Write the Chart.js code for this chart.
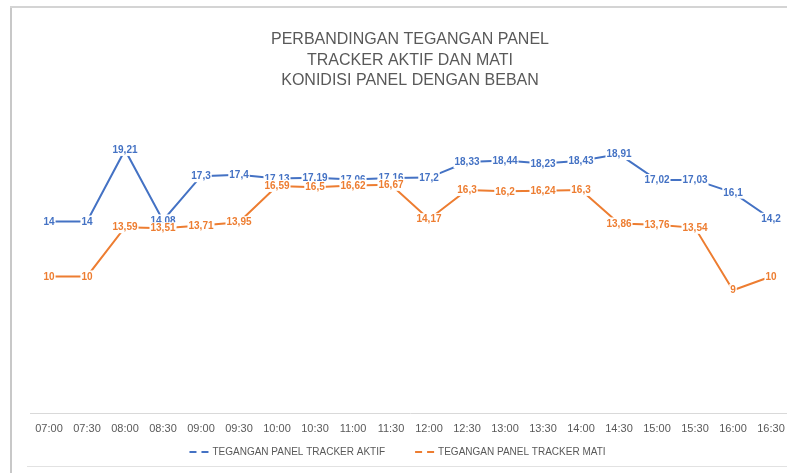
<!DOCTYPE html>
<html>
<head>
<meta charset="utf-8">
<script src="https://cdn.jsdelivr.net/npm/chart.js@4"></script>
<style>
  html, body { margin: 0; padding: 0; background: #fff; overflow: hidden; }
  #wrap { position: relative; width: 787px; height: 473px; overflow: hidden; }
  #box { position: absolute; left: 0; top: 0; width: 795px; height: 473px; }
  .frame-left { position: absolute; left: 10px; top: 7px; width: 2px; height: 466px; background: #c8c8c8; }
  .frame-top { position: absolute; left: 10px; top: 6px; width: 777px; height: 2px; background: #d4d4d4; }
  .frame-bottom { position: absolute; left: 27px; top: 466px; width: 760px; height: 1px; background: #e2e2e2; }
</style>
</head>
<body>
<div id="wrap">
  <div id="box"><canvas id="lineChart" width="795" height="473"></canvas></div>
  <div class="frame-left"></div>
  <div class="frame-top"></div>
  <div class="frame-bottom"></div>
</div>
<script>
  const jam = ['07:00','07:30','08:00','08:30','09:00','09:30','10:00','10:30','11:00','11:30',
               '12:00','12:30','13:00','13:30','14:00','14:30','15:00','15:30','16:00','16:30'];
  const trackerAktif = [14, 14, 19.21, 14.08, 17.3, 17.4, 17.13, 17.19, 17.06, 17.16,
                        17.2, 18.33, 18.44, 18.23, 18.43, 18.91, 17.02, 17.03, 16.1, 14.2];
  const trackerMati = [10, 10, 13.59, 13.51, 13.71, 13.95, 16.59, 16.5, 16.62, 16.67,
                       14.17, 16.3, 16.2, 16.24, 16.3, 13.86, 13.76, 13.54, 9, 10];

  const BLUE = '#4472C4';
  const ORANGE = '#ED7D31';
  const FONT = '"Liberation Sans", Arial, sans-serif';

  // data labels centered on the points, decimal comma
  const labelPlugin = {
    id: 'pointLabels',
    afterDatasetsDraw(chart) {
      const ctx = chart.ctx;
      ctx.save();
      ctx.font = 'bold 10px ' + FONT;
      ctx.textAlign = 'center';
      ctx.textBaseline = 'middle';
      chart.data.datasets.forEach((ds, i) => {
        const meta = chart.getDatasetMeta(i);
        meta.data.forEach((pt, j) => {
          const txt = String(ds.data[j]).replace('.', ',');
          const w = ctx.measureText(txt).width;
          ctx.fillStyle = '#fff';
          ctx.fillRect(pt.x - w / 2 - 1, pt.y - 6, w + 2, 12);
          ctx.fillStyle = ds.borderColor;
          ctx.fillText(txt, pt.x, pt.y + 0.5);
        });
      });
      ctx.restore();
    }
  };

  // legend under the axis, dashed markers like the excel one
  const legendPlugin = {
    id: 'bottomLegend',
    afterDraw(chart) {
      const ctx = chart.ctx;
      const y = 452;
      const mark = 20, gapText = 3, gapItem = 30;
      ctx.save();
      ctx.font = '10px ' + FONT;
      ctx.textBaseline = 'middle';
      const items = chart.data.datasets.map(ds => ({ ds, w: mark + gapText + ctx.measureText(ds.label).width }));
      const total = items.reduce((s, it) => s + it.w, 0) + gapItem * (items.length - 1);
      let x = chart.width / 2 - total / 2;
      items.forEach(it => {
        ctx.strokeStyle = it.ds.borderColor;
        ctx.lineWidth = 2;
        ctx.setLineDash([7, 5]);
        ctx.beginPath();
        ctx.moveTo(x, y);
        ctx.lineTo(x + mark, y);
        ctx.stroke();
        ctx.setLineDash([]);
        ctx.fillStyle = '#595959';
        ctx.fillText(it.ds.label, x + mark + gapText, y + 0.5);
        x += it.w + gapItem;
      });
      ctx.restore();
    }
  };

  new Chart(document.getElementById('lineChart'), {
    type: 'line',
    data: {
      labels: jam,
      datasets: [
        { label: 'TEGANGAN PANEL TRACKER AKTIF', data: trackerAktif, borderColor: BLUE, backgroundColor: BLUE,
          borderWidth: 2, pointRadius: 0, tension: 0, fill: false },
        { label: 'TEGANGAN PANEL TRACKER MATI', data: trackerMati, borderColor: ORANGE, backgroundColor: ORANGE,
          borderWidth: 2, pointRadius: 0, tension: 0, fill: false }
      ]
    },
    options: {
      responsive: false,
      animation: false,
      layout: { padding: { left: 30, right: 5, top: 0, bottom: 36 } },
      scales: {
        x: {
          offset: true,
          grid: { display: false },
          border: { display: true, color: '#d9d9d9', width: 1 },
          ticks: { color: '#595959', font: { size: 11, family: FONT },
                   padding: 1, maxRotation: 0, autoSkip: false }
        },
        y: { display: false, min: 0, max: 22.6 }
      },
      plugins: {
        title: {
          display: true,
          text: ['PERBANDINGAN TEGANGAN PANEL', 'TRACKER AKTIF DAN MATI', 'KONIDISI PANEL DENGAN BEBAN'],
          color: '#595959',
          font: { size: 16, weight: 'normal', family: FONT, lineHeight: 1.3 },
          padding: { top: 29, bottom: 12 }
        },
        legend: { display: false },
        tooltip: { enabled: false }
      }
    },
    plugins: [labelPlugin, legendPlugin]
  });
</script>
</body>
</html>
